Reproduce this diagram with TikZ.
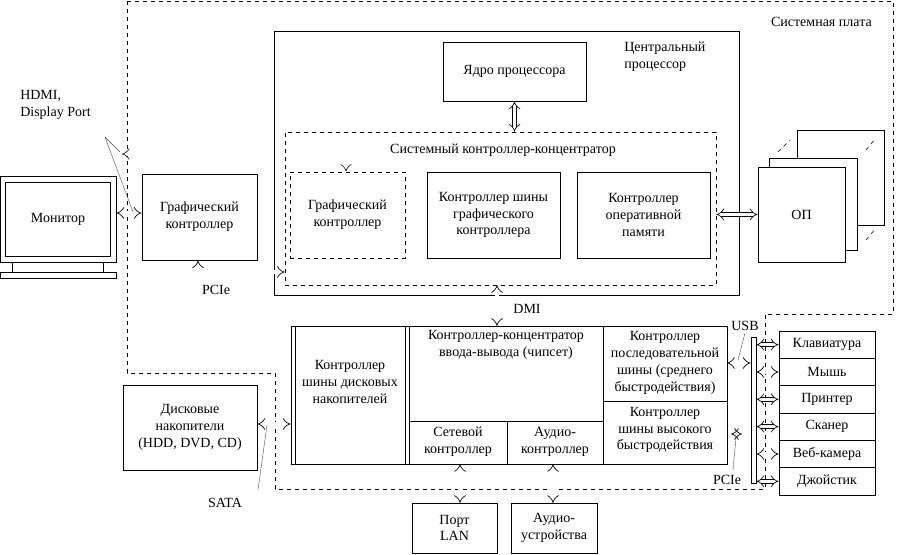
\documentclass[tikz,border=0pt]{standalone}
\usepackage{fontspec}
\setmainfont{Liberation Serif}
\usetikzlibrary{arrows.meta,fit}
\begin{document}
\begin{tikzpicture}[x=0.75pt,y=-0.75pt,
  font=\fontsize{10.5}{12.6}\selectfont,
  box/.style={draw,line width=0.6pt,inner sep=0pt},
  dbox/.style={draw,dashed,line width=0.6pt,inner sep=0pt},
  dbl/.style={double distance=2.6pt,line width=0.5pt,{Implies[length=4pt]}-{Implies[length=4pt]}},
  thin/.style={line width=0.3pt,gray!60!black},
  lbl/.style={align=center,inner sep=0pt}]
\useasboundingbox (0,0) rectangle (900,555);
% motherboard
\draw[dashed,line width=0.6pt] (127,1) -- (893,1) -- (893,314) -- (765,314) -- (765,489) -- (275,489) -- (275,373) -- (127,373) -- cycle;
\node[anchor=north east,inner sep=0] (mbl) at (872,17) {Системная плата};
% CPU
\node[box,fit={(274,31) (739,295)}] (cpu) {};
\node[anchor=north west,align=left,inner sep=0] (cpul) at (624,42) {Центральный\\процессор};
\node[box,fit={(443,42) (586,101)},label={[lbl]center:Ядро процессора}] (core) {};
\node[dbox,line width=0.4pt,fit={(285,132) (716,285)}] (hub) {};
\node[lbl] (hubl) at (503,150) {Системный контроллер-концентратор};
\node[dbox,fit={(290,172) (405,258)},label={[lbl]center:Графический\\контроллер}] (igc) {};
\node[box,fit={(427,172) (560,258)},label={[lbl]center:Контроллер шины\\графического\\контроллера}] (gbc) {};
\node[box,fit={(577,172) (710,258)},label={[lbl]center:Контроллер\\оперативной\\памяти}] (ramc) {};
\draw[dbl] (core.south) -- (core.south |- hub.north);
% RAM
\node[box,fill=white,fit={(797,130) (884,225)}] (r3) {};
\node[box,fill=white,fit={(769,158) (857,250)}] (r2) {};
\node[box,fill=white,fit={(758,167) (845,262)},label={[lbl]center:ОП}] (ram) {};
\draw[dashed,line width=0.4pt] (778,152) -- (790,140) (866,150) -- (876,138) (866,240) -- (876,228);
\draw[dbl] (hub.east |- ram.west) -- (ram.west);
% monitor
\node[box,fit={(0,176) (116,262)}] (mon) {};
\draw[line width=0.6pt] (5,182) rectangle (110,256);
\node[lbl] (monl) at (58,219) {Монитор};
\draw[line width=0.6pt] (12,262) rectangle (103,272) (0,272) rectangle (116,278);
\node[box,fit={(142,174) (257,260)},label={[lbl]center:Графический\\контроллер}] (gc) {};
\draw[dbl] (mon.east |- 0,213) -- (gc.west |- 0,213);
\coordinate (pc1) at (198,272);
\draw[dbl,{Implies[length=4pt]}-{Implies[length=4pt]}] (gc.south -| pc1) -- (pc1) -- (pc1 -| hub.west);
\node (pcie1) at (216,290) {PCIe};
\coordinate (hd1) at (122,154);
\coordinate (hd2) at (346,154);
\draw[dbl,dashed,line width=0.4pt] (hd1) -- (hd2) -- (hd2 |- igc.north);
\node[anchor=north west,align=left,inner sep=0] (hdmi) at (20,90) {HDMI,\\Display Port};
\draw[thin] (105,137) -- (120,152) (105,137) -- (133,212);
% DMI
\node[box,fit={(291,326) (727,464)}] (chip) {};
\draw[dbl] (497,285) -- (497,326);
\node (dmi) at (527,309) {DMI};
% chipset internals
\draw[line width=0.6pt] (295,326) -- (295,464) (405,326) -- (405,464) (409,326) -- (409,464) (603,326) -- (603,464) (409,421) -- (603,421) (507,421) -- (507,464) (603,401) -- (727,401);
\node[lbl] (dcl) at (350,382) {Контроллер\\шины дисковых\\накопителей};
\node[lbl,anchor=north] (ioh) at (506,330) {Контроллер-концентратор\\ввода-вывода (чипсет)};
\node[lbl] (net) at (458,442) {Сетевой\\контроллер};
\node[lbl] (aud) at (555,442) {Аудио-\\контроллер};
\node[lbl] (ser) at (665,363) {Контроллер\\последовательной\\шины (среднего\\быстродействия)};
\node[lbl] (hs) at (665,430) {Контроллер\\шины высокого\\быстродействия};
% disks
\node[box,fit={(123,385) (257,470)},label={[lbl]center:Дисковые\\накопители\\(HDD, DVD, CD)}] (disk) {};
\draw[dbl] (disk.east |- 0,424) -- (chip.west |- 0,424);
\node (sata) at (225,503) {SATA};
\draw[thin] (258,490) -- (267,425);
% LAN, audio
\node[box,fit={(412,503) (497,553)},label={[lbl]center:Порт\\LAN}] (lan) {};
\node[box,fit={(511,503) (597,553)},label={[lbl]center:Аудио-\\устройства}] (audd) {};
\draw[dbl] (460,464) -- (460,503);
\draw[dbl] (553,464) -- (553,503);
% USB
\node[box,fit={(751,337) (756,483)}] (usb) {};
\draw[dbl] (727,363) -- (usb.west |- 0,363);
\node (usbl) at (745,326) {USB};
\draw[thin] (745,333) -- (738,360);
\draw[dbl] (731,434) -- (742,434);
\node (pcie2) at (727,480) {PCIe};
\draw[thin] (733,470) -- (736,438);
% peripherals
\foreach \t [count=\i] in {Клавиатура,Мышь,Принтер,Сканер,Веб-камера,Джойстик}{
  \pgfmathsetmacro{\ya}{331+(\i-1)*27.33}
  \pgfmathsetmacro{\yb}{331+\i*27.33}
  \node[box,fit={(779,\ya) (875,\yb)},label={[lbl]center:\t}] (p\i) {};
  \draw[dbl] (usb.east |- p\i.west) -- (p\i.west);
}
\end{tikzpicture}
\end{document}
